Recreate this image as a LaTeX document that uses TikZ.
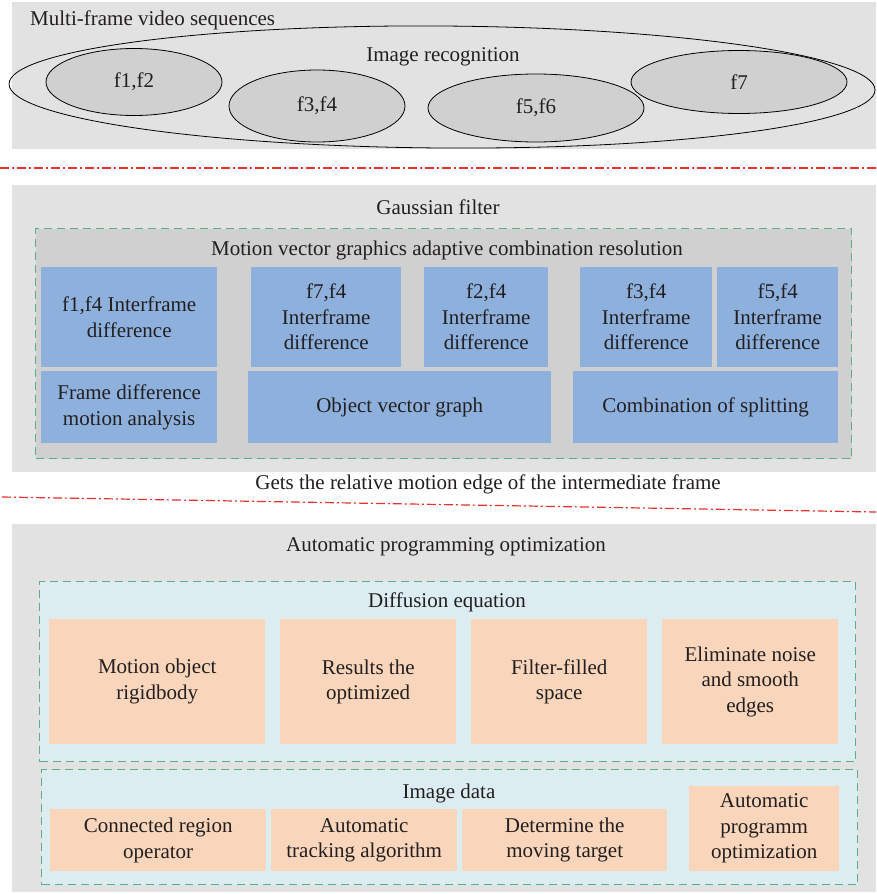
\documentclass[tikz,border=0pt]{standalone}
\usepackage{fontspec}
\setmainfont{Liberation Serif}
\usetikzlibrary{shapes.geometric}
\definecolor{panelgray}{HTML}{E2E2E2}
\definecolor{midgray}{HTML}{D0D0D0}
\definecolor{boxblue}{HTML}{8EB0DD}
\definecolor{lightblue}{HTML}{DCEDF1}
\definecolor{peach}{HTML}{F9D5BB}
\definecolor{dashgreen}{HTML}{5DAE84}
\definecolor{linered}{HTML}{E8312A}
\definecolor{ink}{HTML}{231F20}
\begin{document}
\begin{tikzpicture}[x=1pt,y=-1pt,
  every node/.style={font=\fontsize{21}{25.5}\selectfont, text=ink},
  boxbase/.style={anchor=north west, inner sep=0pt, align=center, draw=none},
  panel/.style={boxbase, fill=panelgray},
  frameA/.style={boxbase, fill=midgray, draw=dashgreen, line width=1.1pt, dash pattern=on 8pt off 5pt},
  frameB/.style={boxbase, fill=lightblue, draw=dashgreen, line width=1.1pt, dash pattern=on 8pt off 5pt},
  bluebox/.style={boxbase, fill=boxblue},
  peachbox/.style={boxbase, fill=peach},
  frameell/.style={ellipse, draw=black, line width=0.8pt, inner sep=0pt},
  smallell/.style={frameell, fill=midgray},
  label/.style={inner sep=0pt},
  sepline/.style={draw=linered, line width=1.2pt, dash pattern=on 9pt off 3pt on 2pt off 3pt}
]
\useasboundingbox (0,0) rectangle (876,894);
\fill[white] (0,0) rectangle (876,894);

% ---------- panel 1 ----------
\node[panel, minimum width=864pt, minimum height=147pt] (p1) at (12,2) {};
\node[label, anchor=west] (t1) at (30,20) {Multi-frame video sequences};
\node[frameell, minimum width=866pt, minimum height=122pt, rotate=-0.4] (big) at (442,87) {};
\node[label] (ir) at (443,57) {Image recognition};
\node[smallell, minimum width=176pt, minimum height=67pt] (e12) at (134,82) {f1,f2};
\node[smallell, minimum width=176pt, minimum height=72pt] (e34) at (317,106) {f3,f4};
\node[smallell, minimum width=216pt, minimum height=68pt] (e56) at (536,108) {f5,f6};
\node[smallell, minimum width=216pt, minimum height=63pt] (e7) at (739,82) {f7};

% ---------- separator 1 ----------
\coordinate (s1a) at (0,168);
\coordinate (s1b) at (876,168);
\draw[sepline] (s1a) -- (s1b);

% ---------- panel 2 ----------
\node[panel, minimum width=864pt, minimum height=287pt] (p2) at (12,185) {};
\node[label] (gf) at (438,207) {Gaussian filter};
\node[frameA, minimum width=816pt, minimum height=230pt] (fr2) at (35,228) {};
\node[label] (mv) at (447,250) {Motion vector graphics adaptive combination resolution};
\node[bluebox, minimum width=176pt, minimum height=100pt] (bA) at (41,267) {f1,f4 Interframe\\difference};
\node[bluebox, minimum width=150pt, minimum height=100pt] (bB) at (251,267) {f7,f4\\Interframe\\difference};
\node[bluebox, minimum width=124pt, minimum height=100pt] (bC) at (424,267) {f2,f4\\Interframe\\difference};
\node[bluebox, minimum width=132pt, minimum height=100pt] (bD) at (580,267) {f3,f4\\Interframe\\difference};
\node[bluebox, minimum width=121pt, minimum height=100pt] (bE) at (717,267) {f5,f4\\Interframe\\difference};
\node[bluebox, minimum width=176pt, minimum height=72pt] (bF) at (41,371) {Frame difference\\motion analysis};
\node[bluebox, minimum width=303pt, minimum height=72pt] (bG) at (248,371) {Object vector graph};
\node[bluebox, minimum width=265pt, minimum height=72pt] (bH) at (573,371) {Combination of splitting};

% ---------- middle label + separator 2 ----------
\node[label] (gt) at (488,484) {Gets the relative motion edge of the intermediate frame};
\coordinate (s2a) at (2,497);
\coordinate (s2b) at (876,512);
\draw[sepline] (s2a) -- (s2b);

% ---------- panel 3 ----------
\node[panel, minimum width=864pt, minimum height=368pt] (p3) at (12,524) {};
\node[label] (ap) at (446,547) {Automatic programming optimization};
\node[frameB, minimum width=816pt, minimum height=180pt] (fr3a) at (39,581) {};
\node[label] (de) at (447,602) {Diffusion equation};
\node[peachbox, minimum width=216pt, minimum height=125pt] (q1) at (49,619) {Motion object\\rigidbody};
\node[peachbox, minimum width=176pt, minimum height=125pt] (q2) at (280,619) {Results the\\optimized};
\node[peachbox, minimum width=176pt, minimum height=125pt] (q3) at (471,619) {Filter-filled\\space};
\node[peachbox, minimum width=176pt, minimum height=125pt] (q4) at (662,619) {Eliminate noise\\and smooth\\edges};
\node[frameB, minimum width=816pt, minimum height=115pt] (fr3b) at (41,769) {};
\node[label] (id) at (449,793) {Image data};
\node[peachbox, minimum width=216pt, minimum height=62pt] (r1) at (50,809) {Connected region\\operator};
\node[peachbox, minimum width=186pt, minimum height=62pt] (r2) at (271,809) {Automatic\\tracking algorithm};
\node[peachbox, minimum width=205pt, minimum height=62pt] (r3) at (462,809) {Determine the\\moving target};
\node[peachbox, minimum width=150pt, minimum height=85pt] (r4) at (689,786) {Automatic\\programm\\optimization};
\end{tikzpicture}
\end{document}
